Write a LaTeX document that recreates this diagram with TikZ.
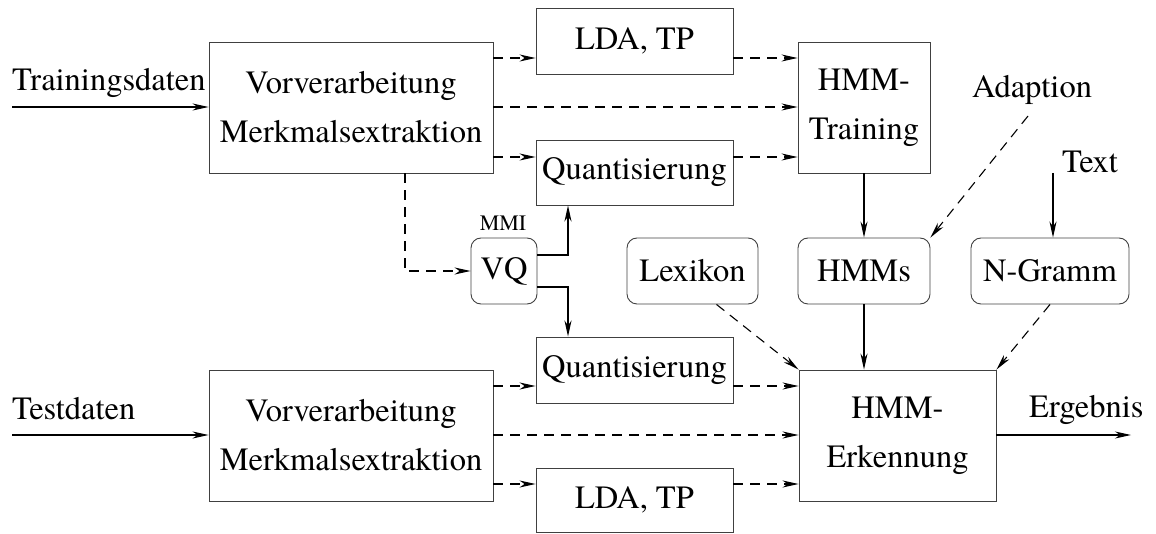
\documentclass[tikz,border=0pt]{standalone}
\usepackage{fontspec}
\setmainfont{texgyretermes}[Extension=.otf, UprightFont=*-regular, BoldFont=*-bold, ItalicFont=*-italic, BoldItalicFont=*-bolditalic]
\usetikzlibrary{arrows.meta,calc}
\begin{document}
\begin{tikzpicture}[x=1pt,y=-1pt,
  box/.style={draw=black!75, line width=0.9pt, inner sep=0pt, align=center, font=\fontsize{32.5}{49}\selectfont},
  rbox/.style={box, rounded corners=10pt},
  lbl/.style={inner sep=0pt, font=\fontsize{32.5}{49}\selectfont},
  smalllbl/.style={inner sep=0pt, font=\fontsize{22}{26}\selectfont},
  ar/.style={line width=1.1pt, -{Stealth[length=16pt,width=7pt,inset=5pt]}},
  dar/.style={ar, dash pattern=on 10pt off 7pt},
  vqline/.style={ar, line width=1.8pt}]
\useasboundingbox (0,0) rectangle (1156,534);

% boxes
\node[box, minimum width=284pt, minimum height=131pt] (vm1) at (351,107.5) {Vorverarbeitung\\Merkmalsextraktion};
\node[box, minimum width=197pt, minimum height=66pt] (lda1) at (634.5,41) {LDA, TP};
\node[box, minimum width=197pt, minimum height=65pt] (q1) at (634.5,172.5) {Quantisierung};
\node[box, minimum width=132pt, minimum height=131pt] (hmmt) at (864,107.5) {HMM-\\Training};
\node[rbox, minimum width=66pt, minimum height=66pt] (vq) at (504,271) {VQ};
\node[rbox, minimum width=131pt, minimum height=66pt] (lex) at (692.5,271) {Lexikon};
\node[rbox, minimum width=132pt, minimum height=66pt] (hmms) at (864,271) {HMMs};
\node[rbox, minimum width=158pt, minimum height=66pt] (ngr) at (1050,271) {N-Gramm};
\node[box, minimum width=197pt, minimum height=66pt] (q2) at (634.5,370) {Quantisierung};
\node[box, minimum width=197pt, minimum height=131pt] (erk) at (897.5,435.5) {HMM-\\Erkennung};
\node[box, minimum width=284pt, minimum height=131pt] (vm2) at (351,435.5) {Vorverarbeitung\\Merkmalsextraktion};
\node[box, minimum width=197pt, minimum height=64pt] (lda2) at (634.5,500) {LDA, TP};

% labels
\node[lbl, anchor=base west] (trd) at (12,91) {Trainingsdaten};
\node[lbl, anchor=base west] (ted) at (12,419) {Testdaten};
\node[lbl, anchor=base] (adl) at (1032,98) {Adaption};
\node[lbl, anchor=base west] (txl) at (1062,173) {Text};
\node[lbl, anchor=base west] (erg) at (1029,417) {Ergebnis};
\node[smalllbl, anchor=base] (mmi) at (503,231) {MMI};

% helper coordinates
\coordinate (yA) at (0,58);
\coordinate (yB) at (0,107);
\coordinate (yC) at (0,157);
\coordinate (yD) at (0,386);
\coordinate (yE) at (0,435);
\coordinate (yF) at (0,484);
\coordinate (trs) at (12,107);
\coordinate (tes) at (12,435);
\coordinate (xdrop) at (405,0);
\coordinate (xq) at (568,0);
\coordinate (yv1) at (0,255);
\coordinate (yv2) at (0,287);
\coordinate (adp) at (1028,116);
\coordinate (txs) at (1053,173);
\coordinate (ergend) at (1131,435);

% training path
\draw[ar] (trs) -- (vm1.west |- trs);
\draw[dar] (vm1.east |- yA) -- (lda1.west |- yA);
\draw[dar] (lda1.east |- yA) -- (hmmt.west |- yA);
\draw[dar] (vm1.east |- yB) -- (hmmt.west |- yB);
\draw[dar] (vm1.east |- yC) -- (q1.west |- yC);
\draw[dar] (q1.east |- yC) -- (hmmt.west |- yC);
\draw[dar] (vm1.south -| xdrop) |- (vq.west);
\draw[vqline] (vq.east |- yv1) -| (q1.south -| xq);
\draw[vqline] (vq.east |- yv2) -| (q2.north -| xq);
\draw[ar] (hmmt.south) -- (hmms.north);
\draw[dar] (adp) -- (hmms.north east);
\draw[ar] (txs) -- (txs |- ngr.north);

% recognition path
\draw[ar] (tes) -- (vm2.west |- tes);
\draw[dar] (vm2.east |- yD) -- (q2.west |- yD);
\draw[dar] (q2.east |- yD) -- (erk.west |- yD);
\draw[dar] (vm2.east |- yE) -- (erk.west |- yE);
\draw[dar] (vm2.east |- yF) -- (lda2.west |- yF);
\draw[dar] (lda2.east |- yF) -- (erk.west |- yF);
\draw[dar] ([xshift=24pt]lex.south) -- (erk.north west);
\draw[ar] (hmms.south) -- (hmms.south |- erk.north);
\draw[dar] (ngr.south) -- (erk.north east);
\draw[ar] (erk.east |- yE) -- (ergend);
\end{tikzpicture}
\end{document}
